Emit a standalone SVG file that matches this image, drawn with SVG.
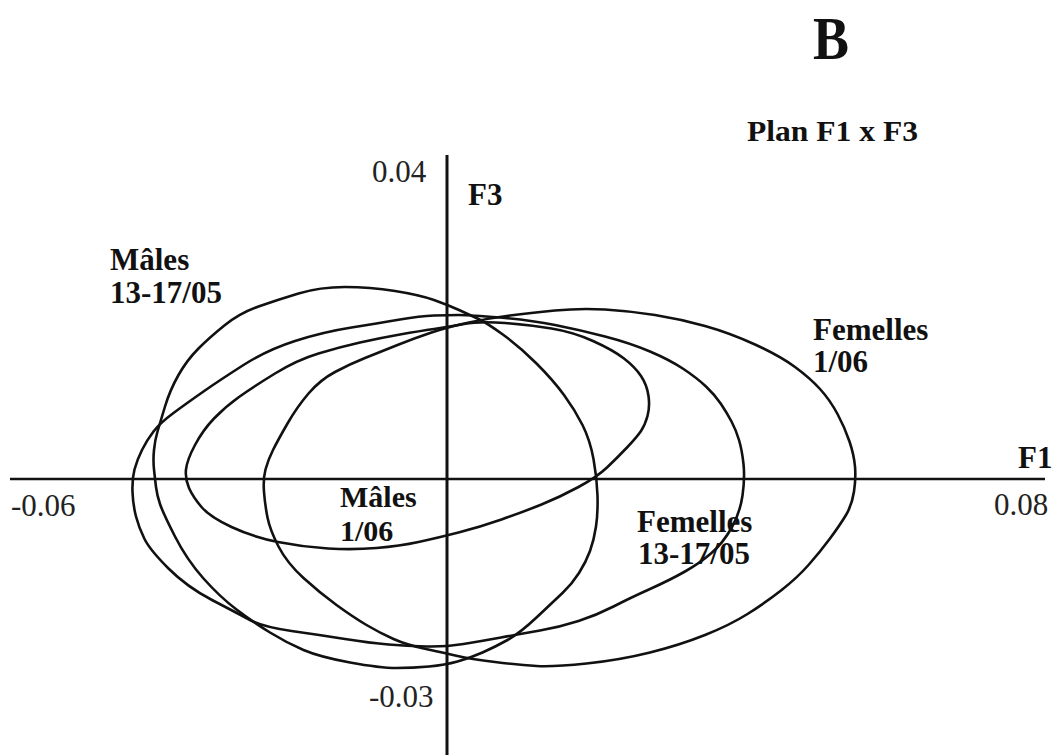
<svg xmlns="http://www.w3.org/2000/svg" width="1061" height="755" viewBox="0 0 1061 755">
<style>
.lbl{font-family:"Liberation Serif","Times New Roman",serif;font-weight:bold;font-size:31px;fill:#111}
.tick{font-family:"Liberation Serif","Times New Roman",serif;font-size:31px;fill:#222}
.ell{fill:none;stroke:#111;stroke-width:2.6;stroke-linejoin:round}
.axis{stroke:#111;fill:none}
</style>
<rect width="1061" height="755" fill="#fff"/>
<g id="title">
<text x="813" y="59" class="lbl" style="font-size:62px" textLength="36" lengthAdjust="spacingAndGlyphs">B</text>
<text x="747" y="141" class="lbl" style="font-size:29px" textLength="171" lengthAdjust="spacingAndGlyphs">Plan F1 x F3</text>
</g>
<g id="axes">
<line class="axis" x1="10" y1="479" x2="1045" y2="479" stroke-width="2.4"/>
<line class="axis" x1="447" y1="155" x2="447" y2="755" stroke-width="3"/>
<text x="372" y="182" class="tick">0.04</text>
<text x="468" y="205" class="lbl">F3</text>
<text x="1018" y="468" class="lbl">F1</text>
<text x="11" y="516" class="tick">-0.06</text>
<text x="994" y="515" class="tick">0.08</text>
<text x="369" y="707" class="tick">-0.03</text>
</g>
<g id="connectors"></g>
<g id="femelles-1-06">
<path class="ell" d="M 265.5,469.5 Q 268,460 273,450 Q 278,440 287.5,423.5 Q 297,407 308.5,393.5 Q 320,380 335,372 Q 350,364 365,358 Q 380,352 397.5,345 Q 415,338 431.5,332.5 Q 448,327 469,322.5 Q 490,318 510,315.5 Q 530,313 555,310.5 Q 580,308 605,309.5 Q 630,311 655,315 Q 680,319 705,326 Q 730,333 755,344.5 Q 780,356 795,367 Q 810,378 820,389 Q 830,400 837.5,414 Q 845,428 849.5,441.5 Q 854,455 855,466.5 Q 856,478 854,491.5 Q 852,505 846,515 Q 840,525 830,538.5 Q 820,552 808.5,565 Q 797,578 781,590.5 Q 765,603 747.5,614 Q 730,625 705,635 Q 680,645 650,652.5 Q 620,660 586.5,663.5 Q 553,667 536.5,666 Q 520,665 495,662 Q 470,659 457.5,656 Q 445,653 426,649 Q 407,645 393.5,639 Q 380,633 366.5,625 Q 353,617 336.5,605 Q 320,593 303.5,578 Q 287,563 278.5,546.5 Q 270,530 267.5,517.5 Q 265,505 264,492 Q 263,479 265.5,469.5 Z"/>
<text class="lbl"><tspan x="813" y="340">Femelles</tspan><tspan x="813" y="372">1/06</tspan></text>
</g>
<g id="femelles-13-17-05">
<path class="ell" d="M 134.5,469.5 Q 137,460 142,450 Q 147,440 153.5,431.5 Q 160,423 173.5,413 Q 187,403 203.5,391.5 Q 220,380 243.5,365 Q 267,350 295,341 Q 323,332 351.5,327.5 Q 380,323 400,319.5 Q 420,316 434,315.5 Q 448,315 459,315 Q 470,315 500,317.5 Q 530,320 555,325 Q 580,330 605,336.5 Q 630,343 650,351.5 Q 670,360 683.5,369 Q 697,378 706,386.5 Q 715,395 721,404 Q 727,413 731.5,421.5 Q 736,430 739,440 Q 742,450 743.5,464 Q 745,478 742.5,495.5 Q 740,513 731.5,528 Q 723,543 711.5,553 Q 700,563 685,571.5 Q 670,580 650,589 Q 630,598 613.5,606.5 Q 597,615 578.5,621 Q 560,627 540,630.5 Q 520,634 501,637.5 Q 482,641 463.5,644 Q 445,647 426,646.5 Q 407,646 388.5,644.5 Q 370,643 345,639 Q 320,635 291.5,631 Q 263,627 250,620 Q 237,613 212,600 Q 187,587 168.5,568.5 Q 150,550 144.5,539 Q 139,528 136,516.5 Q 133,505 132.5,492 Q 132,479 134.5,469.5 Z"/>
<text class="lbl"><tspan x="637" y="532">Femelles</tspan><tspan x="638" y="564">13-17/05</tspan></text>
</g>
<g id="males-13-17-05">
<path class="ell" d="M 154,469.5 Q 153,460 154,450 Q 155,440 157.5,431.5 Q 160,423 165,406.5 Q 170,390 178.5,375 Q 187,360 198.5,348.5 Q 210,337 225,325 Q 240,313 258.5,306.5 Q 277,300 298.5,293.5 Q 320,287 345,287 Q 370,287 395,291 Q 420,295 434,300 Q 448,305 459,310 Q 470,315 478.5,319 Q 487,323 503.5,335 Q 520,347 536.5,363.5 Q 553,380 564,395 Q 575,410 582.5,425 Q 590,440 593.5,459 Q 597,478 597.5,495.5 Q 598,513 596,526.5 Q 594,540 590,551 Q 586,562 579,573 Q 572,584 562.5,593 Q 553,602 536.5,617.5 Q 520,633 507.5,640 Q 495,647 482.5,652.5 Q 470,658 457.5,661.5 Q 445,665 429,666.5 Q 413,668 396.5,668 Q 380,668 350,662.5 Q 320,657 303.5,650 Q 287,643 270,632.5 Q 253,622 236.5,609.5 Q 220,597 203.5,578.5 Q 187,560 175,536.5 Q 163,513 160,504 Q 157,495 156,487 Q 155,479 154,469.5 Z"/>
<text class="lbl"><tspan x="110" y="270">Mâles</tspan><tspan x="110" y="303">13-17/05</tspan></text>
</g>
<g id="males-1-06">
<path class="ell" d="M 186,469.5 Q 187,460 195,445 Q 203,430 214,418.5 Q 225,407 239,397 Q 253,387 275,373.5 Q 297,360 318.5,353.5 Q 340,347 360,342.5 Q 380,338 400,334.5 Q 420,331 434,329 Q 448,327 464,324 Q 480,321 505,323 Q 530,325 551.5,328.5 Q 573,332 593,341 Q 613,350 624,358.5 Q 635,367 641,376 Q 647,385 648.5,396 Q 650,407 647.5,416 Q 645,425 641,431 Q 637,437 627,447.5 Q 617,458 607,467.5 Q 597,477 578.5,487 Q 560,497 541.5,504.5 Q 523,512 501.5,519.5 Q 480,527 458.5,532.5 Q 437,538 418.5,542 Q 400,546 376.5,548 Q 353,550 328,548.5 Q 303,547 278,542 Q 253,537 231.5,527 Q 210,517 201.5,507 Q 193,497 189,488 Q 185,479 186,469.5 Z"/>
<text class="lbl" style="font-size:30px"><tspan x="340" y="507">Mâles</tspan><tspan x="340" y="541">1/06</tspan></text>
</g>
</svg>
